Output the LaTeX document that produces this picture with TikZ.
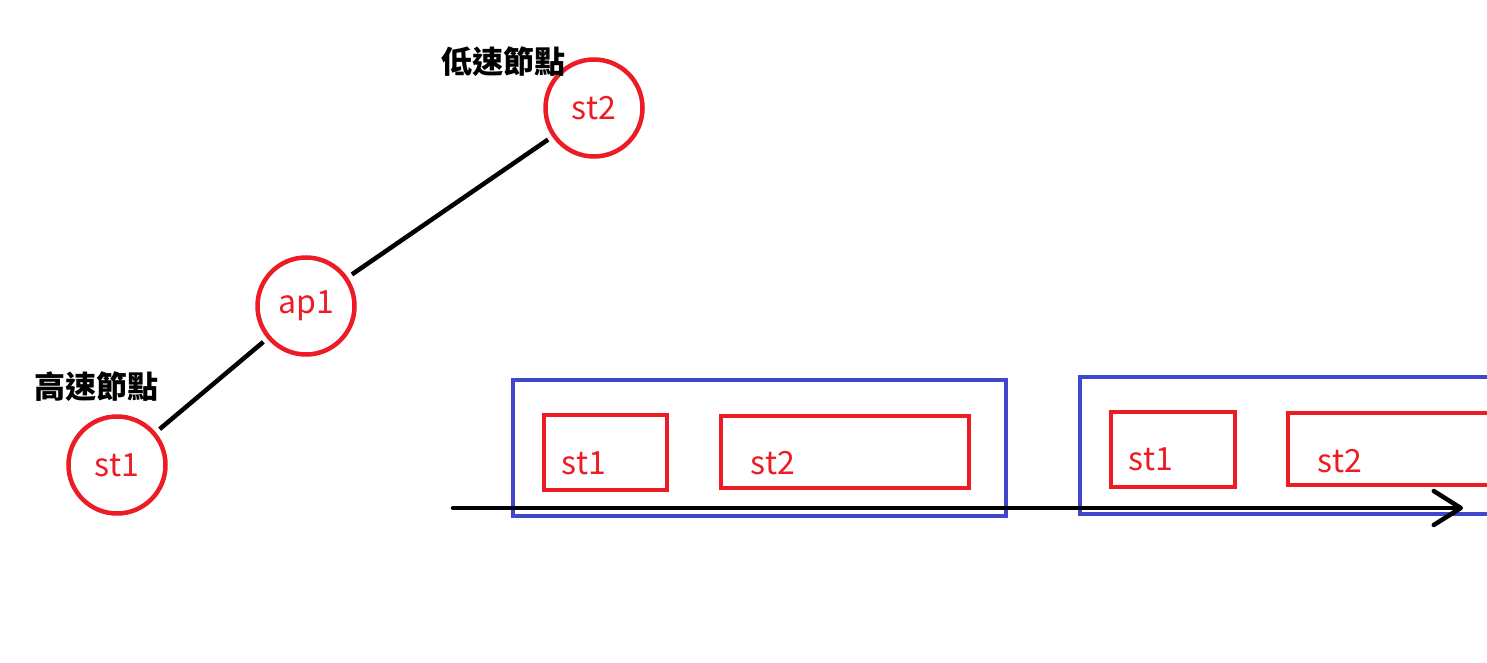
\documentclass[tikz,border=0pt]{standalone}
\usepackage{fontspec}
\setmainfont{Noto Sans CJK TC}
\usetikzlibrary{arrows.meta}
\definecolor{pred}{RGB}{237,28,36}
\definecolor{pblue}{RGB}{63,72,204}
\tikzset{
  stnode/.style={circle,draw=pred,line width=4.5pt,minimum size=97pt,inner sep=0pt,text=pred,font=\fontsize{32}{36}\selectfont},
  bluebox/.style={draw=pblue,line width=4.5pt,inner sep=0pt},
  redbox/.style={draw=pred,line width=4.5pt,inner sep=0pt},
  redtxt/.style={text=pred,font=\fontsize{32}{36}\selectfont,inner sep=0pt},
  cjklabel/.style={text=black,font=\fontsize{31}{36}\selectfont\bfseries,inner sep=0pt},
  link/.style={line width=4.5pt,black,shorten <=5pt,shorten >=5pt},
}
\begin{document}
\begin{tikzpicture}[x=1pt,y=-1pt]
\useasboundingbox (0,0) rectangle (1487,663);
\clip (0,0) rectangle (1487,663);
% circles
\node[stnode] (st2) at (594,108) {st2};
\node[stnode] (ap1) at (306,306) {ap1};
\node[stnode] (st1) at (117,465) {st1};
\node[cjklabel] (slow) at (503,62) {低速節點};
\node[cjklabel] (fast) at (96,387) {高速節點};
\draw[link] (st1) -- (ap1);
\draw[link] (ap1) -- (st2);
% timeline boxes
\node[bluebox,minimum width=493pt,minimum height=136pt] (frame1) at (759.5,448) {};
\node[redbox,minimum width=123pt,minimum height=75pt] (b1st1) at (605.5,452.5) {};
\node[redbox,minimum width=248pt,minimum height=72pt] (b1st2) at (845,452) {};
\node[redtxt] (t1st1) at (584,463) {st1};
\node[redtxt] (t1st2) at (773,463) {st2};
\node[bluebox,minimum width=438pt,minimum height=137pt] (frame2) at (1299,445.5) {};
\node[redbox,minimum width=124pt,minimum height=75pt] (b2st1) at (1173,449.5) {};
\node[redbox,minimum width=220pt,minimum height=72pt] (b2st2) at (1398,449) {};
\node[redtxt] (t2st1) at (1151,459) {st1};
\node[redtxt] (t2st2) at (1340,461) {st2};
% time arrow
\coordinate (tstart) at (453,508);
\coordinate (tend) at (1463,508);
\draw[line width=4.5pt,line cap=round,-{Straight Barb[length=27pt,width=34pt,line width=4.5pt,round]}] (tstart) -- (tend);
\end{tikzpicture}
\end{document}
